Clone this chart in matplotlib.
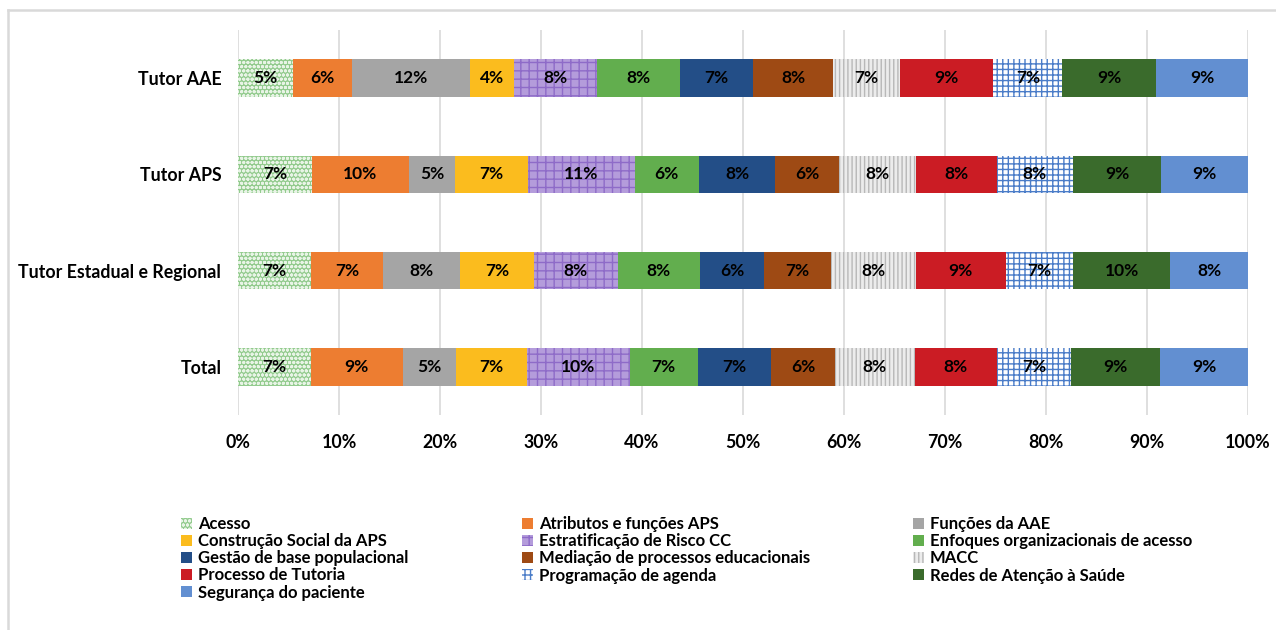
import matplotlib
matplotlib.use("Agg")
import matplotlib.pyplot as plt
from matplotlib.patches import Patch
from matplotlib.lines import Line2D
import numpy as np

plt.rcParams['font.family'] = ['Lato', 'DejaVu Sans']
plt.rcParams['font.weight'] = 'bold'
plt.rcParams['hatch.linewidth'] = 1.0

groups = ["Tutor AAE", "Tutor APS", "Tutor Estadual e Regional", "Total"]

categories = [
    "Acesso", "Atributos e funções APS", "Funções da AAE",
    "Construção Social da APS", "Estratificação de Risco CC", "Enfoques organizacionais de acesso",
    "Gestão de base populacional", "Mediação de processos educacionais", "MACC",
    "Processo de Tutoria", "Programação de agenda", "Redes de Atenção à Saúde",
    "Segurança do paciente",
]

# percentage shares per group, in category order
tutor_aae = [5.4, 5.9, 11.7, 4.3, 8.2, 8.3, 7.2, 7.9, 6.6, 9.3, 6.8, 9.3, 9.1]
tutor_aps = [7.3, 9.6, 4.6, 7.2, 10.6, 6.3, 7.6, 6.3, 7.6, 8.0, 7.6, 8.7, 8.6]
tutor_est = [7.2, 7.2, 7.6, 7.3, 8.3, 8.1, 6.4, 6.6, 8.4, 8.9, 6.7, 9.6, 7.7]
total = [7.2, 9.1, 5.3, 7.0, 10.2, 6.7, 7.3, 6.3, 7.9, 8.1, 7.4, 8.8, 8.7]

xticks = [0, 10, 20, 30, 40, 50, 60, 70, 80, 90, 100]

data = np.array([tutor_aae, tutor_aps, tutor_est, total])

styles = [
    dict(fc="#93CB8E", ec="#E8F4E6", hatch="oooo"),
    dict(fc="#ED7D31", ec="#ED7D31", hatch=None),
    dict(fc="#A5A5A5", ec="#A5A5A5", hatch=None),
    dict(fc="#FBBC1E", ec="#FBBC1E", hatch=None),
    dict(fc="#B49CDB", ec="#8E6BC8", hatch="++"),
    dict(fc="#62AE4E", ec="#62AE4E", hatch=None),
    dict(fc="#234E87", ec="#234E87", hatch=None),
    dict(fc="#9E4A14", ec="#9E4A14", hatch=None),
    dict(fc="#ECECEC", ec="#B8B8B8", hatch="||||"),
    dict(fc="#CB1C24", ec="#CB1C24", hatch=None),
    dict(fc="#FFFFFF", ec="#4A7CC8", hatch="+++"),
    dict(fc="#3A6B2C", ec="#3A6B2C", hatch=None),
    dict(fc="#628FD1", ec="#628FD1", hatch=None),
]

fig = plt.figure(figsize=(12.76, 6.30), dpi=100)
ax = fig.add_axes([238 / 1276, 1 - 415 / 630, 1010 / 1276, 385 / 630])

y = np.arange(len(groups))
left = np.zeros(len(groups))
for i, cat in enumerate(categories):
    vals = data[:, i]
    st = styles[i]
    ax.barh(y, vals, left=left, height=0.39, color=st["fc"], edgecolor=st["ec"],
            hatch=st["hatch"], linewidth=0, zorder=2)
    for j, v in enumerate(vals):
        ax.text(left[j] + v / 2, y[j], f"{v:.0f}%", ha="center", va="center",
                fontsize=12.5, fontweight="bold", color="black", zorder=4)
    left += vals

ax.set_xlim(0, 100)
ax.set_ylim(3.5, -0.5)
ax.set_yticks(y)
ax.set_yticklabels(groups, fontsize=12.8, fontweight="bold")
ax.set_xticks(xticks)
ax.set_xticklabels([f"{t}%" for t in xticks], fontsize=12.8, fontweight="bold")
ax.tick_params(axis="y", length=0, pad=12)
ax.tick_params(axis="x", length=0, pad=14)
ax.grid(axis="x", color="#D9D9D9", linewidth=1.2, zorder=0)
ax.set_axisbelow(True)
for s in ax.spines.values():
    s.set_visible(False)

# legend: three columns, row-major order
handles = [Patch(facecolor=st["fc"], edgecolor=st["ec"], hatch=st["hatch"], linewidth=0)
           for st in styles]
col_x = [181 / 1276, 522 / 1276, 913 / 1276]
for c in range(3):
    idx = list(range(c, len(categories), 3))
    fig.legend([handles[k] for k in idx], [categories[k] for k in idx],
               loc="upper left", bbox_to_anchor=(col_x[c], 1 - 516 / 630),
               frameon=False, handlelength=0.65, handleheight=0.65,
               handletextpad=0.35, labelspacing=0.07, borderpad=0, borderaxespad=0,
               prop=dict(family=['Lato', 'DejaVu Sans'], weight='bold', size=12))

# outer frame lines
fig.add_artist(Line2D([8 / 1276, 1.0], [1 - 10 / 630, 1 - 10 / 630], color="#D9D9D9",
                      linewidth=1.8, transform=fig.transFigure))
fig.add_artist(Line2D([8 / 1276, 8 / 1276], [0, 1 - 10 / 630], color="#D9D9D9",
                      linewidth=1.8, transform=fig.transFigure))

fig.savefig("out.png", dpi=100, facecolor="white")
